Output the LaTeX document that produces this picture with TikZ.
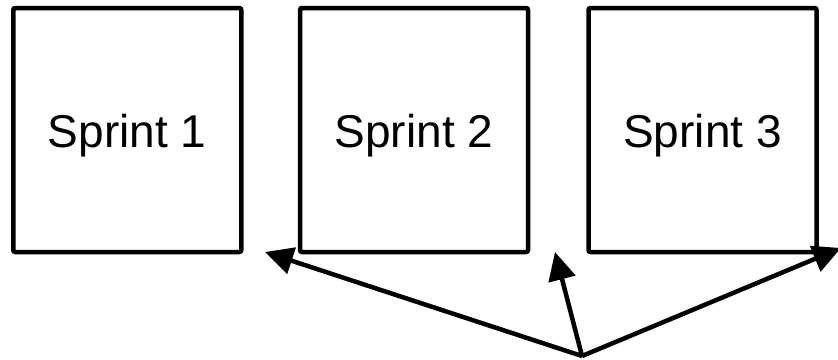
\documentclass[tikz,border=0pt]{standalone}
\usepackage{fontspec}
\setmainfont{Liberation Sans}
\usetikzlibrary{arrows.meta}
\begin{document}
\begin{tikzpicture}[x=1pt,y=-1pt,
  sprintbox/.style={draw=black, line width=4.5pt, rounded corners=2pt,
    minimum width=228pt, minimum height=244pt, inner sep=0pt,
    text depth=0pt, font=\fontsize{46}{56}\selectfont},
  pointer/.style={draw=black, line width=4.5pt,
    -{Triangle[length=28pt,width=27pt]}}]
  \useasboundingbox (0,0) rectangle (838,359);
  \clip (0,0) rectangle (838,359);
  % the three sprints
  \node[sprintbox] (s1) at (127.25,130) {\raisebox{-2.5pt}{Sprint 1}};
  \node[sprintbox] (s2) at (414,130) {\raisebox{-2.5pt}{Sprint 2}};
  \node[sprintbox] (s3) at (702.5,130) {\raisebox{-2.5pt}{Sprint 3}};
  % arrows fanning out from a common point
  \coordinate (base) at (582,356);
  \coordinate (t1) at (265,252);
  \coordinate (t2) at (555,252);
  \coordinate (t3) at (841,248);
  \draw[pointer] (base) -- (t1);
  \draw[pointer] (base) -- (t2);
  \draw[pointer] (base) -- (t3);
\end{tikzpicture}
\end{document}
